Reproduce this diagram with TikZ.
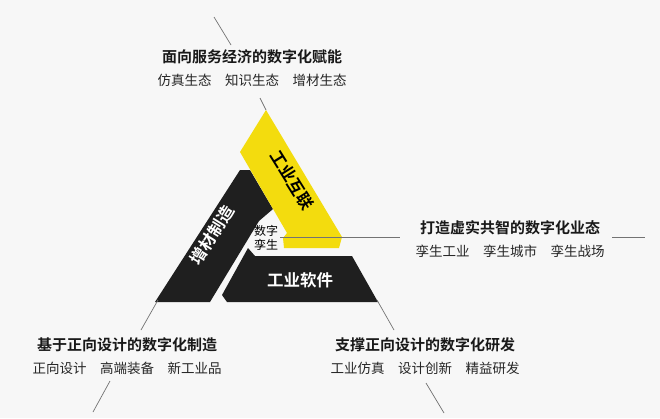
\documentclass[tikz,border=0pt]{standalone}
\usepackage{fontspec}
\newfontfamily\cjk{Noto Sans CJK SC}
\newfontfamily\cjkb{Noto Sans CJK SC Bold}
\begin{document}
\begin{tikzpicture}[x=1pt,y=-1pt,
  ttl/.style={font=\cjkb\fontsize{15}{17}\selectfont, text=black!90},
  sub/.style={font=\cjk\fontsize{13.5}{15}\selectfont, text=black!85},
  lbl/.style={font=\cjkb\fontsize{16.5}{18}\selectfont},
  ln/.style={draw=black!55, line width=0.7pt},
  shp/.style={fill=black!88, draw=none}]
\useasboundingbox[fill=white!97!black] (0,0) rectangle (660,418);
\fill[shp] (155,302) -- (240,170) -- (250,170) -- (273,209) -- (259,221) -- (210,302) -- cycle;
\fill[shp] (222,295) -- (248,248) -- (255,256) -- (352,256) -- (378,302) -- (227,302) -- cycle;
\fill[fill=yellow!88!orange!95!black] (266,110) -- (342,237) -- (339,248) -- (284,248) -- (283,238) -- (287,233) -- (240,152) -- cycle;
\coordinate (t1) at (214,17); \coordinate (t2) at (231,45);
\coordinate (t3) at (260,98); \coordinate (t4) at (266,110);
\draw[ln] (t1) -- (t2); \draw[ln] (t3) -- (t4);
\draw[ln] (280,237) -- (400,237); \draw[ln] (612,237) -- (645,237);
\draw[ln] (158,300) -- (141,330); \draw[ln] (110,381) -- (93,412);
\draw[ln] (377,300) -- (394,330); \draw[ln] (426,383) -- (444,413);
\node[lbl, rotate=-58, inner sep=0pt] (yl) at (292,180) {工业互联};
\node[lbl, text=white, rotate=58, inner sep=0pt] (bl) at (212,235) {增材制造};
\node[lbl, text=white] (sl) at (300,280) {工业软件};
\node[font=\cjk\fontsize{12}{14}\selectfont, align=center, inner sep=0pt] (dz) at (266,238) {数字\\孪生};
\node[ttl] (a) at (252,57) {面向服务经济的数字化赋能};
\node[sub] (a1) at (252,80) {仿真生态\hspace{1em}知识生态\hspace{1em}增材生态};
\node[ttl] (b) at (510,228) {打造虚实共智的数字化业态};
\node[sub] (b1) at (510,251) {孪生工业\hspace{1em}孪生城市\hspace{1em}孪生战场};
\node[ttl] (c) at (127,345) {基于正向设计的数字化制造};
\node[sub] (c1) at (127,368) {正向设计\hspace{1em}高端装备\hspace{1em}新工业品};
\node[ttl] (d) at (425,345) {支撑正向设计的数字化研发};
\node[sub] (d1) at (425,368) {工业仿真\hspace{1em}设计创新\hspace{1em}精益研发};
\end{tikzpicture}
\end{document}
